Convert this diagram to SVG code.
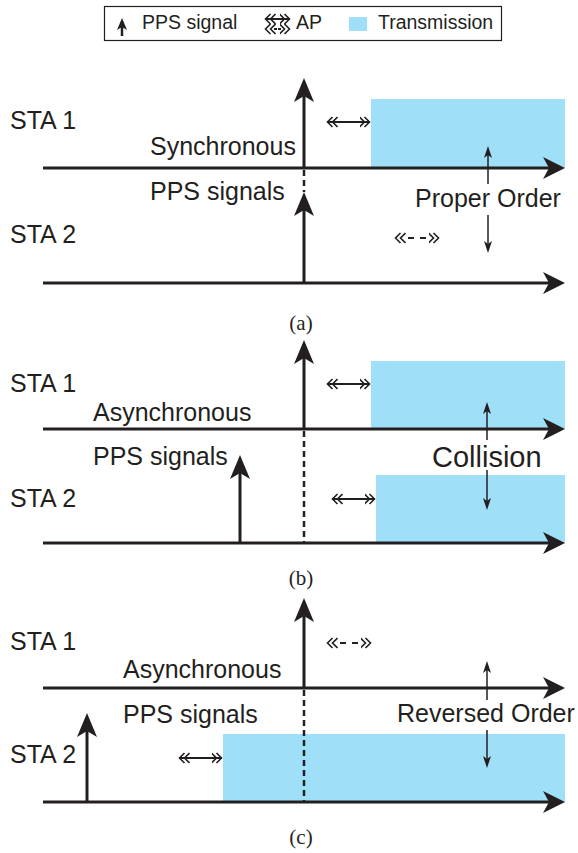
<svg xmlns="http://www.w3.org/2000/svg" width="578" height="853" viewBox="0 0 578 853">
<style>
text{font-family:"Liberation Sans",Arial,sans-serif;fill:#231f20}
.lbl{font-size:25px}
.leg{font-size:19.5px}
.cap{font-family:"Liberation Serif","Times New Roman",serif;font-size:21px}
.axis{stroke:#231f20;stroke-width:3;fill:none;marker-end:url(#bigHead)}
.pps{stroke:#231f20;stroke-width:3;fill:none;marker-end:url(#ppsHead)}
.dot{stroke:#231f20;stroke-width:2.5;stroke-dasharray:6 4;fill:none}
.small{stroke:#231f20;stroke-width:1.5;fill:none;marker-end:url(#smallHead)}
.ap{stroke:#231f20;stroke-width:2;fill:none;marker-start:url(#chev);marker-end:url(#chev)}
.apd{stroke:#231f20;stroke-width:2.2;fill:none;marker-start:url(#chev);marker-end:url(#chev);stroke-dasharray:0 13 6 6 6 13}
.tx{fill:#9fdff7;stroke:none}
</style>
<defs>
<marker id="bigHead" markerUnits="userSpaceOnUse" viewBox="0 0 22 22" markerWidth="22" markerHeight="22" refX="12" refY="11" orient="auto">
<path d="M0,0 L22,11 L0,22 L6,11 z" fill="#231f20"/>
</marker>
<marker id="ppsHead" markerUnits="userSpaceOnUse" viewBox="0 0 24 20" markerWidth="24" markerHeight="20" refX="14" refY="10" orient="auto">
<path d="M0,0 L24,10 L0,20 L6,10 z" fill="#231f20"/>
</marker>
<marker id="smallHead" markerUnits="userSpaceOnUse" viewBox="0 0 12 8" markerWidth="12" markerHeight="8" refX="9" refY="4" orient="auto">
<path d="M0,0 L12,4 L0,8 L3,4 z" fill="#231f20"/>
</marker>
<marker id="legHead" markerUnits="userSpaceOnUse" viewBox="0 0 12 10" markerWidth="12" markerHeight="10" refX="8" refY="5" orient="auto">
<path d="M0,0 L12,5 L0,10 L3,5 z" fill="#231f20"/>
</marker>
<marker id="chev" markerUnits="userSpaceOnUse" viewBox="0 0 12 12" markerWidth="12" markerHeight="12" refX="10.5" refY="6" orient="auto-start-reverse">
<path d="M0,1 L5,6 L0,11 M5,1 L10,6 L5,11" fill="none" stroke="#231f20" stroke-width="1.6"/>
</marker>
</defs>

<g id="legend">
<rect x="104.5" y="6.5" width="397" height="34" fill="#fff" stroke="#231f20" stroke-width="1.2"/>
<line x1="122" y1="36" x2="122" y2="22" stroke="#231f20" stroke-width="2.5" marker-end="url(#legHead)"/>
<text class="leg" x="142" y="29">PPS signal</text>
<line class="ap" x1="265" y1="19" x2="290" y2="19"/>
<line x1="265" y1="29" x2="290" y2="29" stroke="#231f20" stroke-width="2" stroke-dasharray="0 9 3 1 3 9" marker-start="url(#chev)" marker-end="url(#chev)"/>
<text class="leg" x="296" y="29">AP</text>
<rect x="349" y="17" width="18" height="14" class="tx"/>
<text class="leg" x="378" y="29">Transmission</text>
</g>

<!-- (a) -->
<g id="a-sta1">
<rect class="tx" x="371" y="99" width="194" height="69"/>
<text class="lbl" x="10" y="129">STA 1</text>
<text class="lbl" x="150" y="155">Synchronous</text>
</g>
<g id="a-sta2">
<text class="lbl" x="150" y="200">PPS signals</text>
<text class="lbl" x="10" y="243">STA 2</text>
<text class="lbl" x="415" y="207">Proper Order</text>
</g>
<text id="cap-a" class="cap" x="301" y="330" text-anchor="middle">(a)</text>

<!-- (b) -->
<g id="b-sta1">
<rect class="tx" x="371" y="361" width="194" height="68"/>
<text class="lbl" x="10" y="392">STA 1</text>
<text class="lbl" x="93" y="421">Asynchronous</text>
</g>
<g id="b-sta2">
<rect class="tx" x="376" y="475" width="189" height="68"/>
<text class="lbl" x="93" y="465">PPS signals</text>
<text class="lbl" x="10" y="507">STA 2</text>
<text x="432" y="467" style="font-size:29px">Collision</text>
</g>
<text id="cap-b" class="cap" x="301" y="585" text-anchor="middle">(b)</text>

<!-- (c) -->
<g id="c-sta1">
<text class="lbl" x="10" y="650">STA 1</text>
<text class="lbl" x="123" y="678">Asynchronous</text>
</g>
<g id="c-sta2">
<rect class="tx" x="223" y="734" width="342" height="68"/>
<text class="lbl" x="123" y="723">PPS signals</text>
<text class="lbl" x="10" y="763">STA 2</text>
<text class="lbl" x="397" y="722">Reversed Order</text>
</g>
<text id="cap-c" class="cap" x="301" y="844" text-anchor="middle">(c)</text>

<g id="connectors">
<line class="axis" x1="43" y1="168" x2="555" y2="168"/>
<line class="axis" x1="43" y1="283" x2="555" y2="283"/>
<line class="axis" x1="43" y1="429" x2="555" y2="429"/>
<line class="axis" x1="43" y1="543" x2="555" y2="543"/>
<line class="axis" x1="43" y1="688" x2="555" y2="688"/>
<line class="axis" x1="43" y1="802" x2="555" y2="802"/>
<line class="pps" x1="304" y1="168" x2="304" y2="88"/>
<line class="pps" x1="304" y1="283" x2="304" y2="202"/>
<line class="dot" x1="304" y1="170" x2="304" y2="192"/>
<line class="pps" x1="304" y1="429" x2="304" y2="350"/>
<line class="pps" x1="240" y1="543" x2="240" y2="465"/>
<line class="dot" x1="304" y1="431" x2="304" y2="543"/>
<line class="pps" x1="304" y1="688" x2="304" y2="608"/>
<line class="pps" x1="87" y1="802" x2="87" y2="723"/>
<line class="dot" x1="304" y1="690" x2="304" y2="802"/>
<line class="ap" x1="327" y1="122" x2="370" y2="122"/>
<line class="apd" x1="395" y1="238" x2="439" y2="238"/>
<line class="ap" x1="327" y1="384" x2="370" y2="384"/>
<line class="ap" x1="332" y1="499" x2="375" y2="499"/>
<line class="apd" x1="327" y1="643" x2="371" y2="643"/>
<line class="ap" x1="179" y1="758" x2="222" y2="758"/>
<line class="small" x1="488" y1="184" x2="488" y2="149"/>
<line class="small" x1="488" y1="215" x2="488" y2="250"/>
<line class="small" x1="487" y1="440" x2="487" y2="405"/>
<line class="small" x1="487" y1="470" x2="487" y2="507"/>
<line class="small" x1="487" y1="700" x2="487" y2="664"/>
<line class="small" x1="487" y1="730" x2="487" y2="765"/>
</g>
</svg>
